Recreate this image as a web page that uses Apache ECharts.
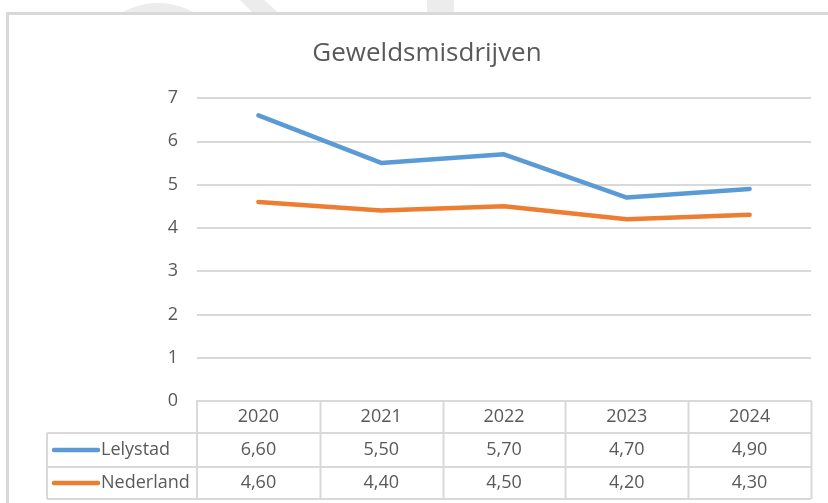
<!DOCTYPE html>
<html>
<head>
<meta charset="utf-8">
<script src="https://cdn.jsdelivr.net/npm/echarts@6/dist/echarts.min.js"></script>
<style>
  html, body { margin: 0; padding: 0; background: #fff; }
  #main { width: 828px; height: 503px; }
</style>
</head>
<body>
<div id="main"></div>
<script>
// data
var years = ['2020', '2021', '2022', '2023', '2024'];
var lelystad = [6.6, 5.5, 5.7, 4.7, 4.9];
var nederland = [4.6, 4.4, 4.5, 4.2, 4.3];
var seriesNames = ['Lelystad', 'Nederland'];
var colors = ['#5b9bd5', '#ed7d31'];

var font = '"Open Sans", "Noto Sans", sans-serif';
var textColor = '#595959';
var lineColor = '#d9d9d9';

var gridLeft = 197, gridRight = 811, gridTop = 98, gridBottom = 401;
var rowY = [401, 433, 467, 499];
var legendLeft = 47;
var colW = (gridRight - gridLeft) / years.length;

var myChart = echarts.init(document.getElementById('main'));

function fmt(v) {
    return v.toFixed(2).replace('.', ',');
}

// background: faint watermark + chart frame
var graphics = [
    { type: 'circle', z: -10, shape: { cx: 158, cy: 76, r: 73 }, style: { fill: '#ececec' } },
    { type: 'polygon', z: -10, shape: { points: [[240, 0], [264, 0], [280, 14], [254, 14]] }, style: { fill: '#ececec' } },
    { type: 'rect', z: -10, shape: { x: 427, y: 0, width: 27, height: 14 }, style: { fill: '#ececec' } },
    { type: 'rect', z: -5, shape: { x: 7.5, y: 13.5, width: 900, height: 600 }, style: { fill: '#fff', stroke: lineColor, lineWidth: 3 } }
];

// data table lines
var tl = [];
tl.push([[gridLeft, rowY[0]], [gridLeft, rowY[3]]]);
for (var i = 1; i <= years.length; i++) {
    var x = Math.round(gridLeft + colW * i) + 0.5;
    tl.push([[x, rowY[0]], [x, rowY[3]]]);
}
tl.push([[legendLeft, rowY[1]], [legendLeft, rowY[3]]]);
for (var r = 1; r < rowY.length; r++) {
    tl.push([[legendLeft, rowY[r]], [gridRight, rowY[r]]]);
}
tl.forEach(function (p) {
    graphics.push({
        type: 'line', z: 1,
        shape: { x1: p[0][0], y1: p[0][1], x2: p[1][0], y2: p[1][1] },
        style: { stroke: lineColor, lineWidth: 2 }
    });
});

// table rows: legend key + values
[lelystad, nederland].forEach(function (vals, s) {
    var cy = (rowY[s + 1] + rowY[s + 2]) / 2;
    graphics.push({
        type: 'line', z: 3,
        shape: { x1: 54, y1: cy, x2: 98, y2: cy },
        style: { stroke: colors[s], lineWidth: 4.5, lineCap: 'round' }
    });
    graphics.push({
        type: 'text', z: 3, x: 101, y: cy,
        style: { text: seriesNames[s], font: '18px ' + font, fill: textColor, textVerticalAlign: 'middle' }
    });
    vals.forEach(function (v, k) {
        graphics.push({
            type: 'text', z: 3, x: gridLeft + colW * (k + 0.5), y: cy,
            style: { text: fmt(v), font: '18px ' + font, fill: textColor, textAlign: 'center', textVerticalAlign: 'middle' }
        });
    });
});

myChart.setOption({
    animation: false,
    backgroundColor: 'transparent',
    title: {
        text: 'Geweldsmisdrijven',
        left: 422,
        textAlign: 'center',
        top: 36,
        textStyle: { fontFamily: font, fontSize: 26, fontWeight: 'normal', color: textColor }
    },
    grid: {
        left: gridLeft,
        right: 828 - gridRight,
        top: gridTop,
        bottom: 503 - gridBottom
    },
    xAxis: {
        type: 'category',
        data: years,
        boundaryGap: true,
        axisLine: { lineStyle: { color: lineColor, width: 2 } },
        axisTick: { show: false },
        axisLabel: { margin: 7, fontFamily: font, fontSize: 18, color: textColor }
    },
    yAxis: {
        type: 'value',
        min: 0,
        max: 7,
        interval: 1,
        axisLine: { show: false },
        axisTick: { show: false },
        axisLabel: { margin: 19, fontFamily: font, fontSize: 18, color: textColor },
        splitLine: { lineStyle: { color: lineColor, width: 2 } }
    },
    graphic: graphics,
    series: [
        {
            name: seriesNames[0], type: 'line', data: lelystad,
            symbol: 'none', color: colors[0],
            lineStyle: { width: 4.5, cap: 'round', join: 'round' }
        },
        {
            name: seriesNames[1], type: 'line', data: nederland,
            symbol: 'none', color: colors[1],
            lineStyle: { width: 4.5, cap: 'round', join: 'round' }
        }
    ]
});
</script>
</body>
</html>
